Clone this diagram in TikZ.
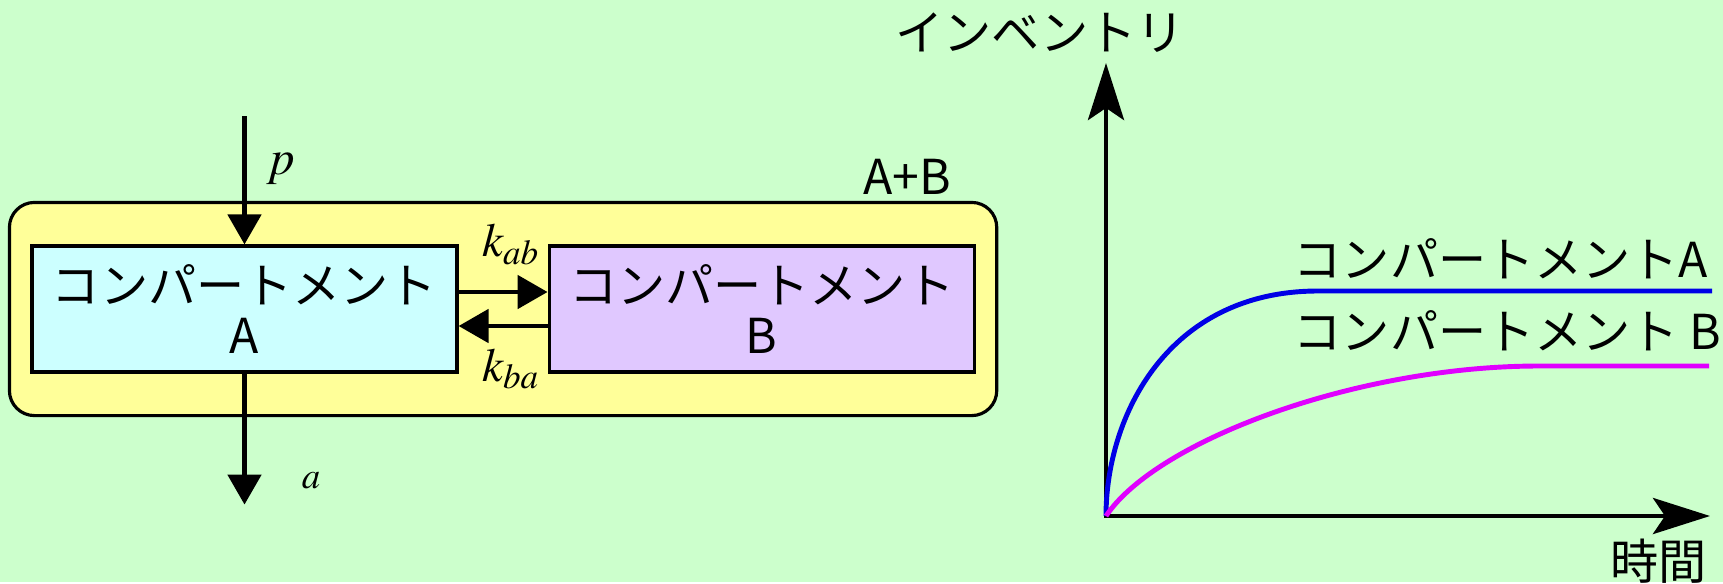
\documentclass[tikz,border=0pt]{standalone}
\usepackage{mathptmx}
\usepackage{fontspec}
\setmainfont{Noto Sans CJK JP}
\usetikzlibrary{arrows.meta, positioning, fit, backgrounds, calc}
\definecolor{bggreen}{HTML}{CCFFCC}
\definecolor{sumyellow}{HTML}{FFFF99}
\definecolor{compacyan}{HTML}{CCFFFF}
\definecolor{compbviolet}{HTML}{E0C8FF}
\definecolor{curveblue}{HTML}{0000E6}
\definecolor{curvemag}{HTML}{E000FF}
\tikzset{
    compbox/.style={
        rectangle, minimum width=4.25cm, minimum height=1.26cm, align=center,
        draw=black, line width=0.9pt, inner sep=0pt, font=\fontsize{13.7}{14.4}\selectfont
    },
    sumbox/.style={
        rectangle, rounded corners=0.25cm, draw=black, line width=0.9pt,
        fill=sumyellow, inner xsep=0.21cm, inner ysep=0.42cm
    },
    flow/.style={
        -{Triangle[length=0.3cm, width=0.33cm]}, line width=1.4pt
    },
    axis/.style={
        {Stealth[length=0.57cm, width=0.36cm, inset=0.12cm]}-{Stealth[length=0.57cm, width=0.36cm, inset=0.12cm]},
        line width=1.4pt
    },
    curve/.style={
        line width=1.4pt
    },
    jplabel/.style={
        inner sep=0pt, font=\fontsize{13.7}{15}\selectfont
    },
    ratelabel/.style={
        inner sep=0pt, font=\fontsize{13.5}{15}\selectfont
    }
}

\begin{document}
\begin{tikzpicture}[node distance=0.89cm]

    % compartments
    \node[compbox, fill=compacyan]                (compA) at (2.445,2.73) {コンパートメント\\A};
    \node[compbox, fill=compbviolet, right=of compA] (compB) {コンパートメント\\B};

    \begin{scope}[on background layer]
        \fill[bggreen] (0,0) rectangle (17.23,5.82);
        \node[sumbox, fit=(compA)(compB)] (sum) {};
    \end{scope}
    \node[jplabel, anchor=base east] (sumlbl) at ([xshift=-0.47cm, yshift=0.06cm]sum.north east) {A+B};

    % flows
    \coordinate[above=1.28cm of compA.north] (pin);
    \coordinate[below=1.31cm of compA.south] (aout);
    \draw[flow] (pin) -- (compA.north)
        node[pos=0.41, right=0.2cm, inner sep=0pt, font=\fontsize{14}{16}\selectfont] (plbl) {$p$};
    \draw[flow] (compA.south) -- (aout)
        node[pos=0.82, right=0.55cm, inner sep=0pt, font=\fontsize{10.5}{12}\selectfont] (albl) {$a$};
    \draw[flow] ([yshift=0.17cm]compA.east) -- ([yshift=0.17cm]compB.west)
        node[ratelabel, midway, above=0.25cm, xshift=0.08cm] (kab) {$k_{ab}$};
    \draw[flow] ([yshift=-0.17cm]compB.west) -- ([yshift=-0.17cm]compA.east)
        node[ratelabel, midway, below=0.2cm, xshift=0.08cm] (kba) {$k_{ba}$};

    % graph
    \coordinate (orig) at (11.06,0.66);
    \coordinate (ytip) at (11.06,5.19);
    \coordinate (xtip) at (17.10,0.66);
    \draw[axis] (ytip) -- (orig) -- (xtip);
    \node[jplabel, above=0.1cm of ytip, xshift=-0.66cm] (invlbl) {インベントリ};
    \node[jplabel, below left=0.22cm and 0.03cm of xtip] (timelbl) {時間};

    \draw[curve, curveblue] (orig) .. controls (11.06,1.66) and (11.68,2.91) .. (13.18,2.91) -- (17.12,2.91);
    \draw[curve, curvemag]  (orig) .. controls (11.56,1.41) and (13.56,2.16) .. (15.39,2.16) -- (17.09,2.16);

    \node[jplabel, anchor=west] (lblA) at (12.93,3.23) {コンパートメントA};
    \node[jplabel, anchor=west] (lblB) at (12.93,2.51) {コンパートメント B};

\end{tikzpicture}
\end{document}
